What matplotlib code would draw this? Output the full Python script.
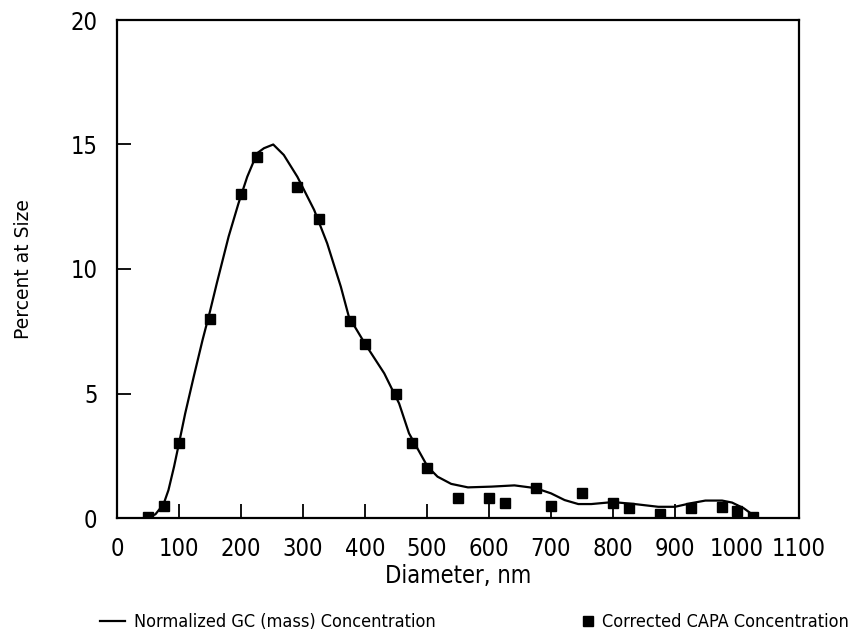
import matplotlib
matplotlib.use("Agg")
import matplotlib.pyplot as plt
from matplotlib.lines import Line2D

# Corrected CAPA concentration, percent at each diameter (nm)
capa_diam = [50, 75, 100, 150, 200, 225, 290, 325, 375, 400, 450, 475, 500,
             550, 600, 625, 675, 700, 750, 800, 825, 875, 925, 975, 1000, 1025]
capa_pct = [0.05, 0.5, 3.0, 8.0, 13.0, 14.5, 13.3, 12.0, 7.9, 7.0, 5.0, 3.0, 2.0,
            0.8, 0.8, 0.6, 1.2, 0.5, 1.0, 0.6, 0.4, 0.15, 0.4, 0.45, 0.3, 0.05]

# Normalized GC (mass) concentration curve
gc_diam = [45, 53, 62, 75, 83, 92, 100, 110, 124, 138, 150, 161, 180, 196,
           210, 226, 237, 252, 269, 291, 318, 339, 361, 374, 400, 431, 455,
           471, 501, 517, 539, 566, 604, 641, 675, 700, 722, 744, 765, 800,
           835, 873, 900, 925, 949, 976, 992, 1011, 1022, 1028]
gc_pct = [0.0, 0.05, 0.15, 0.55, 1.12, 2.06, 3.0, 4.2, 5.7, 7.15, 8.3, 9.43,
          11.3, 12.64, 13.7, 14.65, 14.85, 15.0, 14.58, 13.7, 12.37, 11.03,
          9.29, 8.08, 7.0, 5.81, 4.6, 3.4, 2.06, 1.66, 1.37, 1.23, 1.26, 1.31,
          1.2, 0.99, 0.72, 0.56, 0.56, 0.64, 0.56, 0.45, 0.45, 0.59, 0.7, 0.7,
          0.62, 0.39, 0.19, 0.0]

x_ticks = list(range(0, 1101, 100))
y_ticks = [0, 5, 10, 15, 20]

plt.rcParams["font.family"] = ["DejaVu Sans"]
plt.rcParams["font.stretch"] = "condensed"

fig = plt.figure(figsize=(8.49, 6.35), dpi=100)
ax = fig.add_axes([117 / 849, 1 - 518 / 635, 682 / 849, 498 / 635])

ax.plot(gc_diam, gc_pct, color="black", lw=1.6)
ax.plot(capa_diam, capa_pct, "s", color="black", ms=7.8, ls="none")

ax.set_xlim(0, 1100)
ax.set_ylim(0, 20)
ax.set_xticks(x_ticks)
ax.set_yticks(y_ticks)
ax.tick_params(direction="in", length=10, width=1.3, labelsize=17, pad=14)
for s in ax.spines.values():
    s.set_linewidth(1.6)

ax.set_xlabel("Diameter, nm", fontsize=17, labelpad=2)
ax.set_ylabel("Percent at Size", fontsize=13.5, fontstretch="normal")
ax.yaxis.set_label_coords(-0.123, 0.5)

line_h = Line2D([], [], color="black", lw=1.6)
sq_h = Line2D([], [], color="black", marker="s", ls="none", ms=7.5)
fig.legend([line_h], ["Normalized GC (mass) Concentration"],
           loc="center left", bbox_to_anchor=(100 / 849, 1 - 622 / 635),
           frameon=False, fontsize=13, handlelength=1.4, handletextpad=0.5,
           borderpad=0, borderaxespad=0)
fig.legend([sq_h], ["Corrected CAPA Concentration"],
           loc="center right", bbox_to_anchor=(849 / 849, 1 - 622 / 635),
           frameon=False, fontsize=13, handlelength=0.6, handletextpad=0.5,
           borderpad=0, borderaxespad=0)

fig.savefig("out.png", dpi=100)
